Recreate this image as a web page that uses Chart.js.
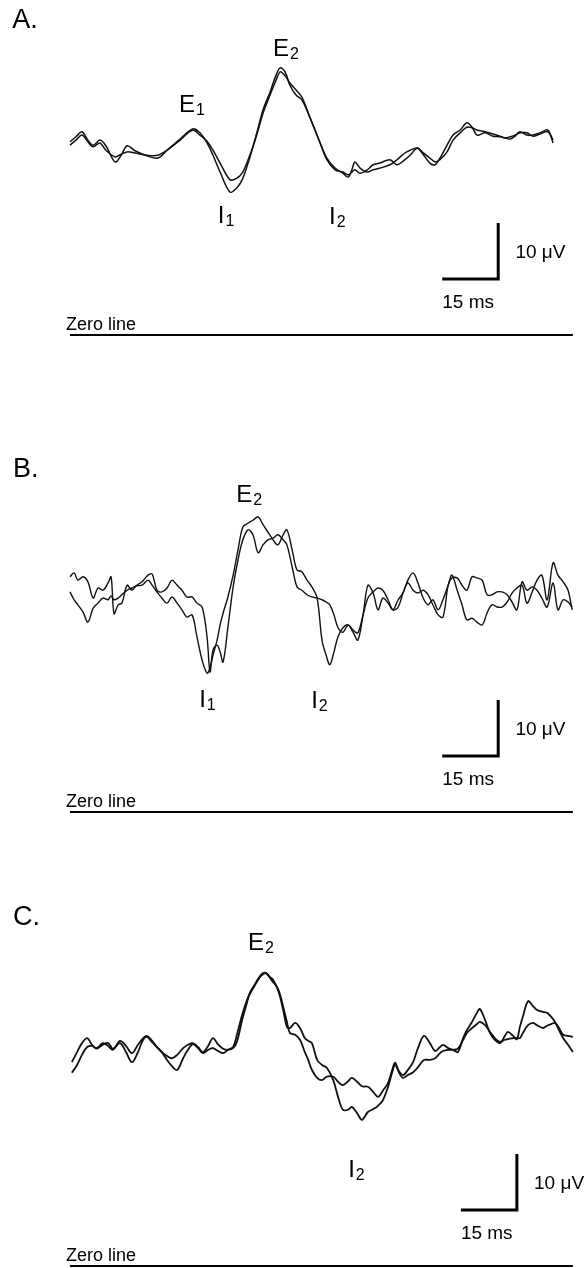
<!DOCTYPE html>
<html>
<head>
<meta charset="utf-8">
<script src="https://cdn.jsdelivr.net/npm/chart.js@4.4.1/dist/chart.umd.min.js"></script>
<style>
  html, body { margin: 0; padding: 0; background: #fff; }
  #wrap { position: relative; width: 585px; height: 1268px; }
  canvas { position: absolute; left: 0; }
</style>
</head>
<body>
<div id="wrap">
  <canvas id="panelA" width="585" height="420" style="top:0px"></canvas>
  <canvas id="panelB" width="585" height="440" style="top:420px"></canvas>
  <canvas id="panelC" width="585" height="408" style="top:860px"></canvas>
</div>
<script>
// ---- data: time (ms) and amplitude (uV) of the two superimposed traces per panel ----
var timeA = [0.0, 1.6, 3.2, 4.8, 6.2, 8.0, 9.6, 12.1, 13.7, 15.3,
  17.4, 20.6, 23.6, 26.0, 29.5, 32.9, 34.8, 36.7, 38.3, 40.2,
  42.9, 44.7, 46.1, 47.7, 49.0, 50.4, 51.7, 53.6, 55.2, 56.3,
  57.6, 58.9, 60.5, 62.1, 64.3, 67.0, 68.8, 71.0, 73.1, 74.5,
  75.5, 76.3, 77.7, 79.6, 81.2, 83.0, 85.7, 87.6, 89.7, 91.1,
  93.0, 94.3, 96.4, 97.8, 99.1, 101.0, 102.6, 104.5, 106.3, 107.7,
  109.0, 111.2, 113.3, 115.2, 116.5, 117.9, 119.2, 120.5, 122.4, 124.0,
  125.9, 128.0, 129.4];
var traceA1 = [34.5, 35.4, 36.3, 34.8, 33.9, 34.8, 33.8, 30.9, 32.1, 33.8,
  32.9, 32.0, 31.6, 33.0, 35.0, 36.8, 36.1, 34.3, 32.1, 29.1,
  25.5, 26.3, 27.7, 30.7, 33.6, 37.0, 40.2, 43.4, 46.4, 47.7,
  47.0, 44.6, 42.9, 42.0, 38.8, 34.3, 31.6, 29.8, 28.9, 28.2,
  29.5, 30.9, 29.8, 29.1, 29.5, 29.8, 30.4, 31.3, 32.5, 33.0,
  33.4, 32.5, 30.7, 30.4, 31.6, 33.9, 35.7, 36.6, 37.9, 37.1,
  35.7, 36.1, 35.5, 35.4, 35.2, 35.0, 35.5, 36.3, 35.7, 35.7,
  36.1, 36.6, 34.3];
var traceA2 = [33.9, 34.8, 35.7, 34.5, 33.6, 34.3, 33.0, 31.8, 32.3, 32.7,
  32.5, 32.1, 32.1, 33.0, 34.8, 36.6, 35.7, 34.6, 33.0, 30.7,
  27.7, 28.0, 28.9, 31.3, 33.6, 36.6, 39.6, 42.9, 45.5, 47.0,
  46.3, 45.0, 43.8, 42.5, 38.8, 34.3, 31.3, 29.5, 29.1, 28.6,
  29.1, 29.5, 28.9, 29.5, 30.4, 30.7, 31.3, 30.4, 31.3, 32.1,
  33.4, 32.7, 31.6, 30.9, 31.3, 32.7, 34.8, 36.1, 37.1, 37.0,
  36.6, 36.3, 35.9, 35.5, 35.2, 35.4, 35.7, 36.1, 36.1, 35.5,
  35.9, 36.3, 34.8];

var timeB = [0.0, 1.1, 2.1, 3.5, 4.8, 6.2, 7.5, 8.8, 10.2, 11.0,
  11.8, 12.9, 13.9, 15.3, 16.6, 17.9, 19.3, 20.9, 22.0, 23.3,
  24.6, 26.0, 27.3, 28.7, 30.0, 31.3, 32.7, 34.0, 35.4, 36.7,
  37.5, 38.3, 39.4, 40.2, 41.0, 42.3, 43.7, 45.0, 46.3, 47.7,
  49.0, 50.4, 51.7, 53.0, 54.4, 55.7, 57.1, 58.1, 59.5, 60.8,
  62.1, 63.5, 64.8, 66.2, 67.5, 68.6, 69.6, 70.7, 71.8, 73.1,
  74.5, 75.8, 77.1, 78.5, 79.8, 81.2, 82.5, 83.8, 85.2, 86.5,
  87.9, 89.2, 90.5, 91.9, 93.2, 94.6, 95.9, 97.2, 98.6, 99.9,
  101.3, 102.3, 103.7, 105.0, 106.3, 107.7, 109.0, 110.4, 111.7, 113.0,
  114.4, 115.7, 117.1, 118.4, 119.7, 121.1, 122.4, 123.8, 125.1, 126.4,
  127.8, 129.4, 130.7, 132.1, 133.4, 134.5];
var traceB1 = [39.3, 37.9, 37.0, 35.7, 33.9, 36.4, 37.3, 38.2, 37.9, 38.6,
  37.9, 38.2, 38.8, 39.6, 40.0, 40.4, 40.5, 41.4, 40.5, 39.3,
  38.2, 37.3, 38.4, 37.3, 36.1, 34.8, 35.2, 31.3, 27.1, 24.8,
  25.7, 28.0, 30.7, 33.4, 35.5, 38.4, 42.3, 46.8, 50.9, 51.6,
  52.1, 52.7, 51.3, 50.0, 48.6, 47.7, 49.5, 50.4, 46.8, 43.2,
  42.9, 41.4, 40.2, 38.2, 30.7, 28.0, 26.3, 28.6, 31.3, 32.9,
  33.4, 32.1, 30.7, 35.2, 40.5, 39.1, 36.1, 38.2, 37.3, 36.1,
  37.9, 39.1, 41.4, 42.7, 40.9, 38.2, 37.0, 37.9, 36.1, 37.9,
  40.5, 42.3, 39.6, 37.0, 34.3, 34.6, 33.9, 33.4, 35.5, 37.0,
  36.6, 36.6, 37.5, 39.1, 40.0, 40.5, 37.3, 39.3, 41.4, 42.3,
  37.9, 44.5, 42.3, 41.1, 39.6, 36.1];
var traceB2 = [42.0, 42.7, 41.4, 42.0, 41.1, 38.2, 40.0, 39.6, 40.9, 42.0,
  35.4, 37.0, 37.3, 40.5, 39.6, 40.5, 41.1, 42.3, 42.5, 39.6,
  39.3, 40.0, 41.4, 40.5, 39.6, 38.4, 38.4, 37.3, 36.6, 31.3,
  25.0, 28.9, 29.8, 28.6, 26.8, 33.0, 40.2, 45.0, 48.6, 50.4,
  49.5, 46.3, 47.7, 48.6, 48.9, 49.5, 48.6, 47.7, 43.8, 40.2,
  39.6, 38.8, 38.4, 38.2, 37.9, 37.5, 37.0, 35.2, 32.9, 32.1,
  33.4, 32.5, 32.0, 35.2, 38.2, 39.3, 40.0, 39.6, 37.9, 36.1,
  36.6, 39.1, 40.9, 39.6, 39.1, 39.6, 38.8, 37.0, 35.2, 34.8,
  40.5, 41.8, 41.8, 40.5, 39.6, 42.0, 41.8, 41.4, 38.8, 38.8,
  39.3, 39.3, 38.8, 37.5, 36.1, 41.1, 39.6, 40.2, 39.6, 38.2,
  36.6, 40.9, 36.1, 37.9, 37.5, 36.6];

var timeC = [0.5, 1.9, 3.2, 4.6, 5.9, 7.2, 8.8, 10.2, 11.5, 13.4,
  15.0, 16.6, 18.2, 19.6, 20.6, 22.0, 23.3, 24.6, 26.0, 27.3,
  28.7, 30.3, 31.6, 32.9, 34.3, 35.6, 37.0, 38.3, 39.6, 41.0,
  42.3, 43.7, 44.7, 46.1, 47.4, 48.2, 49.6, 50.9, 51.7, 52.5,
  53.6, 54.4, 55.5, 56.3, 57.1, 58.1, 58.9, 60.3, 61.6, 62.9,
  63.8, 64.8, 66.2, 67.5, 68.8, 70.5, 71.8, 73.1, 74.5, 75.5,
  76.9, 78.2, 79.8, 81.2, 82.5, 83.8, 85.2, 86.3, 87.1, 88.1,
  89.2, 90.5, 91.9, 93.2, 94.8, 96.4, 97.8, 99.1, 99.9, 101.3,
  102.6, 103.9, 105.3, 106.3, 107.7, 109.0, 109.8, 111.2, 112.5, 113.8,
  115.2, 116.5, 117.3, 118.7, 119.7, 120.5, 121.3, 122.7, 124.0, 125.1,
  126.7, 127.8, 128.9, 129.9, 131.0, 132.1, 133.4, 134.7];
var traceC1 = [36.4, 38.2, 39.8, 40.7, 39.5, 38.9, 39.8, 39.3, 38.6, 40.2,
  39.3, 38.0, 39.5, 40.7, 41.1, 40.2, 39.1, 38.2, 37.5, 37.1,
  37.7, 38.9, 39.5, 39.8, 39.1, 38.2, 39.3, 40.7, 39.6, 38.8,
  38.6, 38.9, 40.0, 43.9, 47.0, 48.8, 50.4, 51.8, 52.3, 52.3,
  51.6, 51.1, 49.6, 48.0, 45.7, 42.7, 42.5, 43.4, 42.5, 40.7,
  40.2, 39.8, 36.8, 35.9, 35.4, 33.2, 30.2, 27.9, 27.9, 28.4,
  27.3, 26.1, 27.5, 28.0, 28.6, 29.6, 32.0, 34.6, 35.9, 34.8,
  34.1, 35.0, 36.4, 38.9, 41.1, 39.8, 38.4, 39.1, 39.5, 38.9,
  38.6, 38.2, 40.7, 42.1, 43.6, 45.2, 45.9, 43.9, 41.6, 40.4,
  39.8, 41.1, 41.8, 41.1, 40.5, 42.7, 44.5, 47.3, 46.4, 45.7,
  45.4, 45.2, 44.5, 43.6, 42.1, 40.7, 39.5, 38.2];
var traceC2 = [34.5, 35.9, 37.7, 39.1, 39.3, 38.8, 39.5, 39.8, 38.8, 39.8,
  38.2, 36.4, 38.2, 40.4, 40.9, 40.0, 39.1, 38.2, 36.8, 35.7,
  35.0, 37.1, 38.6, 39.6, 38.9, 38.0, 38.6, 38.9, 38.4, 38.0,
  38.6, 39.1, 41.3, 44.8, 47.5, 48.6, 50.2, 51.6, 52.1, 52.3,
  51.4, 50.7, 49.8, 48.4, 46.3, 43.6, 41.6, 41.3, 40.4, 38.2,
  36.8, 35.0, 33.6, 33.2, 33.8, 33.8, 32.9, 32.3, 33.0, 33.6,
  32.9, 32.1, 32.0, 31.1, 30.2, 31.3, 32.7, 35.0, 36.3, 34.6,
  33.6, 34.1, 34.6, 35.5, 36.8, 36.8, 37.1, 38.0, 38.4, 38.6,
  38.6, 38.8, 40.4, 41.6, 42.5, 43.2, 43.6, 43.0, 41.8, 40.7,
  40.0, 40.4, 40.5, 40.7, 40.7, 40.7, 41.6, 43.0, 43.4, 43.0,
  42.5, 42.9, 43.2, 43.4, 42.5, 41.3, 41.1, 40.9];

// scale bar: 15 ms x 10 uV
var BAR_MS = 15, BAR_UV = 10;
var ZERO_END = 134.7;

// ---- layout ----
var PX_PER_UV = 5.6;
var FONT = '"Liberation Sans", Arial, Helvetica, sans-serif';

function xy(t, v) {
  return t.map(function (x, i) { return { x: x, y: v[i] }; });
}

var textPlugin = {
  id: 'panelText',
  afterDatasetsDraw: function (chart, args, opts) {
    var ctx = chart.ctx, xs = chart.scales.x, ys = chart.scales.y;
    ctx.save();
    ctx.fillStyle = '#000';
    ctx.textBaseline = 'alphabetic';
    ctx.textAlign = 'left';
    opts.items.forEach(function (it) {
      var px = xs.getPixelForValue(it.t), py = ys.getPixelForValue(it.v);
      ctx.font = it.size + 'px ' + FONT;
      ctx.fillText(it.main, px, py);
      if (it.sub) {
        var w = ctx.measureText(it.main).width;
        ctx.font = Math.round(it.size * 0.68) + 'px ' + FONT;
        ctx.fillText(it.sub, px + w + 1, py + 3);
      }
    });
    ctx.restore();
  }
};

function makePanel(id, zeroY, t, v1, v2, bar, labels, lw) {
  var canvas = document.getElementById(id);
  var h = canvas.height;
  var items = labels.slice();
  items.push({ main: '10 \u03bcV', t: bar.t + 4.6, v: bar.v + 3.7, size: 19 });
  items.push({ main: '15 ms', t: bar.t - BAR_MS, v: bar.v - 5.2, size: 19 });
  items.push({ main: 'Zero line', t: -1.1, v: 0.9, size: 18 });

  return new Chart(canvas, {
    type: 'line',
    data: {
      datasets: [
        { data: xy(t, v1), borderColor: '#111', borderWidth: lw, pointRadius: 0, tension: 0.35, clip: false },
        { data: xy(t, v2), borderColor: '#111', borderWidth: lw, pointRadius: 0, tension: 0.35, clip: false },
        { data: [{ x: 0, y: 0 }, { x: ZERO_END, y: 0 }], borderColor: '#000', borderWidth: 2, pointRadius: 0, clip: false },
        { data: [{ x: bar.t - BAR_MS, y: bar.v }, { x: bar.t, y: bar.v }, { x: bar.t, y: bar.v + BAR_UV }],
          borderColor: '#000', borderWidth: 3, pointRadius: 0, tension: 0,
          borderJoinStyle: 'miter', borderCapStyle: 'butt', clip: false }
      ]
    },
    options: {
      responsive: false,
      animation: false,
      events: [],
      layout: { padding: { left: 70, right: 11, top: 0, bottom: 0 } },
      plugins: {
        legend: { display: false },
        tooltip: { enabled: false },
        panelText: { items: items }
      },
      scales: {
        x: { type: 'linear', min: 0, max: 135, display: false },
        y: { type: 'linear', min: -(h - zeroY) / PX_PER_UV, max: zeroY / PX_PER_UV, display: false }
      }
    },
    plugins: [textPlugin]
  });
}

makePanel('panelA', 335, timeA, traceA1, traceA2, { t: 114.7, v: 10 }, [
  { main: 'A.', t: -15.5, v: 54.8, size: 27 },
  { main: 'E', sub: '1', t: 29.2, v: 39.8, size: 24 },
  { main: 'E', sub: '2', t: 54.4, v: 49.8, size: 24 },
  { main: 'I', sub: '1', t: 39.6, v: 20.0, size: 24 },
  { main: 'I', sub: '2', t: 69.4, v: 19.8, size: 24 }
], 1.5);

makePanel('panelB', 392, timeB, traceB1, traceB2, { t: 114.7, v: 10 }, [
  { main: 'B.', t: -15.3, v: 59.8, size: 27 },
  { main: 'E', sub: '2', t: 44.5, v: 55.4, size: 24 },
  { main: 'I', sub: '1', t: 34.6, v: 18.8, size: 24 },
  { main: 'I', sub: '2', t: 64.6, v: 18.6, size: 24 }
], 1.4);

makePanel('panelC', 406, timeC, traceC1, traceC2, { t: 119.7, v: 10 }, [
  { main: 'C.', t: -15.3, v: 60.9, size: 27 },
  { main: 'E', sub: '2', t: 47.7, v: 56.4, size: 24 },
  { main: 'I', sub: '2', t: 74.5, v: 15.9, size: 24 }
], 1.8);
</script>
</body>
</html>
